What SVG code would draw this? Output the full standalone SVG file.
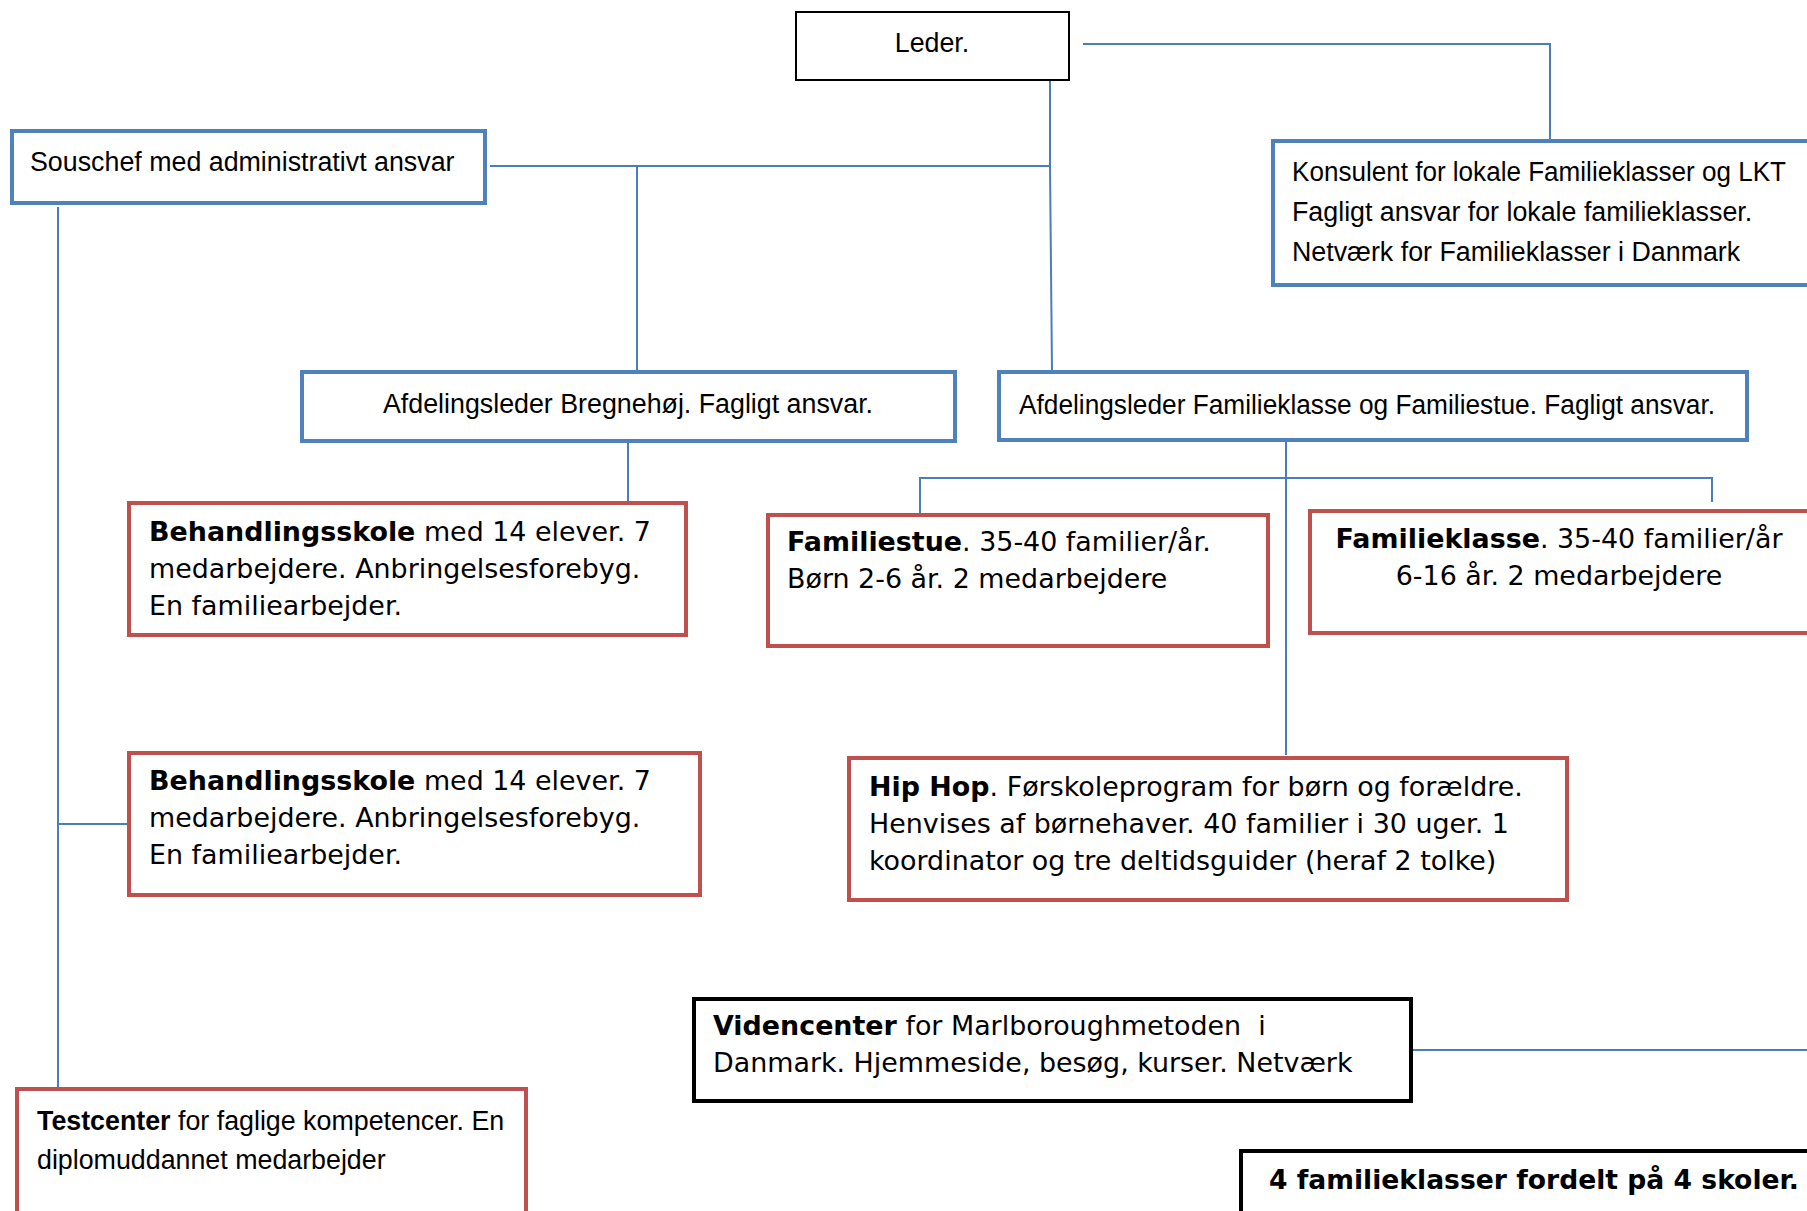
<svg xmlns="http://www.w3.org/2000/svg" width="1807" height="1211" viewBox="0 0 1807 1211">
<style>
.bg{fill:#fff}
.blue{fill:#fff;stroke:#4F81BD;stroke-width:4}
.red{fill:#fff;stroke:#C0504D;stroke-width:4}
.blk{fill:#fff;stroke:#000;stroke-width:4}
.blk2{fill:#fff;stroke:#000;stroke-width:2}
.c{fill:none;stroke:#4A7EBB;stroke-width:2}
.cal{font-family:"Liberation Sans",Arial,sans-serif;font-size:26.8px;fill:#000}
.ver{font-family:"DejaVu Sans",Verdana,sans-serif;font-size:26.9px;fill:#000}
.b{font-weight:bold}
.big{font-size:26.6px}
</style>
<rect class="bg" x="0" y="0" width="1807" height="1211"/>
<g id="connectors">
<path class="c" d="M1083 44 H1550 V140"/>
<path class="c" d="M1050 80 V166 M1050 166 L1052 371"/>
<path class="c" d="M490 166 H1050"/>
<path class="c" d="M637 166 V371"/>
<path class="c" d="M628 441 V502"/>
<path class="c" d="M58 207 V1088"/>
<path class="c" d="M58 824 H127"/>
<path class="c" d="M1286 438 V755"/>
<path class="c" d="M920 514 V478 H1712 V502"/>
<path class="c" d="M1412 1050 H1807"/>
</g>
<g id="leder">
<rect class="blk2" x="796" y="12" width="273" height="68"/>
<text class="cal" x="932" y="52" text-anchor="middle">Leder.</text>
</g>
<g id="souschef">
<rect class="blue" x="12" y="131" width="473" height="72"/>
<text class="cal" x="30" y="171">Souschef med administrativt ansvar</text>
</g>
<g id="konsulent">
<rect class="blue" x="1273" y="141" width="540" height="144"/>
<text class="cal" x="1292" y="181" textLength="494" lengthAdjust="spacingAndGlyphs">Konsulent for lokale Familieklasser og LKT</text>
<text class="cal" x="1292" y="221">Fagligt ansvar for lokale familieklasser.</text>
<text class="cal" x="1292" y="261">Netværk for Familieklasser i Danmark</text>
</g>
<g id="bregnehoj">
<rect class="blue" x="302" y="372" width="653" height="69"/>
<text class="cal" x="628" y="413" text-anchor="middle">Afdelingsleder Bregnehøj. Fagligt ansvar.</text>
</g>
<g id="afd-familieklasse">
<rect class="blue" x="999" y="372" width="748" height="68"/>
<text class="cal" x="1019" y="414" textLength="696" lengthAdjust="spacingAndGlyphs">Afdelingsleder Familieklasse og Familiestue. Fagligt ansvar.</text>
</g>
<g id="behandlingsskole-1">
<rect class="red" x="129" y="503" width="557" height="132"/>
<text class="ver" x="149" y="541"><tspan class="b">Behandlingsskole</tspan> med 14 elever. 7</text>
<text class="ver" x="149" y="578">medarbejdere. Anbringelsesforebyg.</text>
<text class="ver" x="149" y="615">En familiearbejder.</text>
</g>
<g id="familiestue">
<rect class="red" x="768" y="515" width="500" height="131"/>
<text class="ver" x="787" y="551"><tspan class="b">Familiestue</tspan>. 35-40 familier/år.</text>
<text class="ver" x="787" y="588">Børn 2-6 år. 2 medarbejdere</text>
</g>
<g id="familieklasse">
<rect class="red" x="1310" y="511" width="510" height="122"/>
<text class="ver" x="1559" y="548" text-anchor="middle"><tspan class="b">Familieklasse</tspan>. 35-40 familier/år</text>
<text class="ver" x="1559" y="585" text-anchor="middle">6-16 år. 2 medarbejdere</text>
</g>
<g id="behandlingsskole-2">
<rect class="red" x="129" y="753" width="571" height="142"/>
<text class="ver" x="149" y="790"><tspan class="b">Behandlingsskole</tspan> med 14 elever. 7</text>
<text class="ver" x="149" y="827">medarbejdere. Anbringelsesforebyg.</text>
<text class="ver" x="149" y="864">En familiearbejder.</text>
</g>
<g id="hiphop">
<rect class="red" x="849" y="758" width="718" height="142"/>
<text class="ver" x="869" y="796"><tspan class="b">Hip Hop</tspan>. Førskoleprogram for børn og forældre.</text>
<text class="ver" x="869" y="833">Henvises af børnehaver. 40 familier i 30 uger. 1</text>
<text class="ver" x="869" y="870">koordinator og tre deltidsguider (heraf 2 tolke)</text>
</g>
<g id="videncenter">
<rect class="blk" x="694" y="999" width="717" height="102"/>
<text class="ver" x="713" y="1035" xml:space="preserve"><tspan class="b">Videncenter</tspan> for Marlboroughmetoden  i</text>
<text class="ver" x="713" y="1072">Danmark. Hjemmeside, besøg, kurser. Netværk</text>
</g>
<g id="testcenter">
<rect class="red" x="17" y="1089" width="509" height="140"/>
<text class="cal" x="37" y="1130"><tspan class="b">Testcenter</tspan> for faglige kompetencer. En</text>
<text class="cal" x="37" y="1169">diplomuddannet medarbejder</text>
</g>
<g id="fire-familieklasser">
<rect class="blk" x="1241" y="1151" width="600" height="100"/>
<text class="ver b big" x="1269" y="1189">4 familieklasser fordelt på 4 skoler.</text>
</g>
</svg>
